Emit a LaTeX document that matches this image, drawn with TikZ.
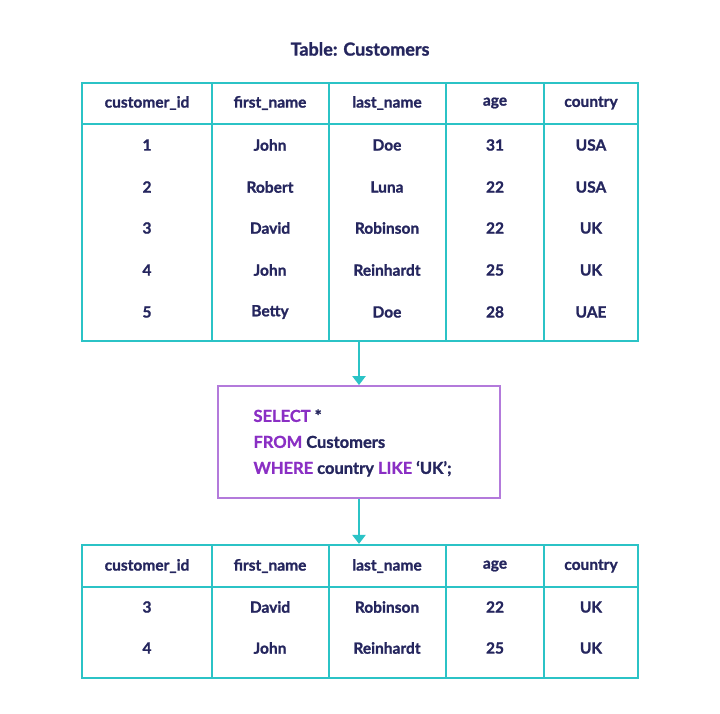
\documentclass[tikz,border=0pt]{standalone}
\usepackage{fontspec}
\setmainfont{Lato}[FakeBold=1.2]
\usetikzlibrary{arrows.meta, positioning}
\definecolor{tabline}{HTML}{2BC3C6}
\definecolor{ink}{HTML}{25265E}
\definecolor{kw}{HTML}{8A2FC4}
\definecolor{boxline}{HTML}{B37ADB}
\tikzset{
	frame/.style={draw=tabline, line width=2.2pt},
	cell/.style={text=ink, font=\fontsize{15.5}{18}\selectfont\bfseries, anchor=center},
	flow/.style={draw=tabline, line width=2.2pt, -{Triangle[length=9pt, width=13pt]}}
}
\newcommand{\kwd}[1]{\textcolor{kw}{#1}}

\begin{document}
\begin{tikzpicture}[x=1pt, y=-1pt]
		\useasboundingbox (0,0) rectangle (720,714);
		\node[text=ink, font=\fontsize{18}{20}\selectfont\bfseries] (title) at (360,49) {Table: Customers};
		
		% top table
		\node[frame, minimum width=556pt, minimum height=258pt, inner sep=0pt] (top) at (360,212) {};
		\draw[frame] (82,124) -- (638,124);
		\foreach \x in {212,329,446,544} \draw[frame] (\x,83) -- (\x,341);
		\foreach \x/\t in {147/customer\_id, 270/first\_name, 387/last\_name, 495/age, 591/country}
			\node[cell] at (\x,103) {\t};
		\foreach \y/\a/\b/\c/\d/\e in {145/1/John/Doe/31/USA, 187/2/Robert/Luna/22/USA,
				228/3/David/Robinson/22/UK, 270/4/John/Reinhardt/25/UK, 312/5/Betty/Doe/28/UAE} {
			\node[cell] at (147,\y) {\a};
			\node[cell] at (270,\y) {\b};
			\node[cell] at (387,\y) {\c};
			\node[cell] at (495,\y) {\d};
			\node[cell] at (591,\y) {\e};
		}
		
		% query
		\node[draw=boxline, line width=1.8pt, minimum width=282pt, minimum height=112pt] (query) at (359,442) {};
		\node[cell, align=left, anchor=west, font=\fontsize{16.5}{26}\selectfont\bfseries] (sql) at (250,443)
			{\kwd{SELECT} *\\ \kwd{FROM} Customers\\ \kwd{WHERE} country \kwd{LIKE} ‘UK’;};
		
		% result table
		\node[frame, minimum width=556pt, minimum height=133pt, inner sep=0pt] (result) at (360,611.5) {};
		\draw[frame] (82,587) -- (638,587);
		\foreach \x in {212,329,446,544} \draw[frame] (\x,545) -- (\x,678);
		\foreach \x/\t in {147/customer\_id, 270/first\_name, 387/last\_name, 495/age, 591/country}
			\node[cell] at (\x,566) {\t};
		\foreach \y/\a/\b/\c/\d/\e in {607/3/David/Robinson/22/UK, 648/4/John/Reinhardt/25/UK} {
			\node[cell] at (147,\y) {\a};
			\node[cell] at (270,\y) {\b};
			\node[cell] at (387,\y) {\c};
			\node[cell] at (495,\y) {\d};
			\node[cell] at (591,\y) {\e};
		}
		
		\draw[flow] (top.south -| query.north) -- (query.north);
		\draw[flow] (query.south) -- (query.south |- result.north);
	\end{tikzpicture}
\end{document}
